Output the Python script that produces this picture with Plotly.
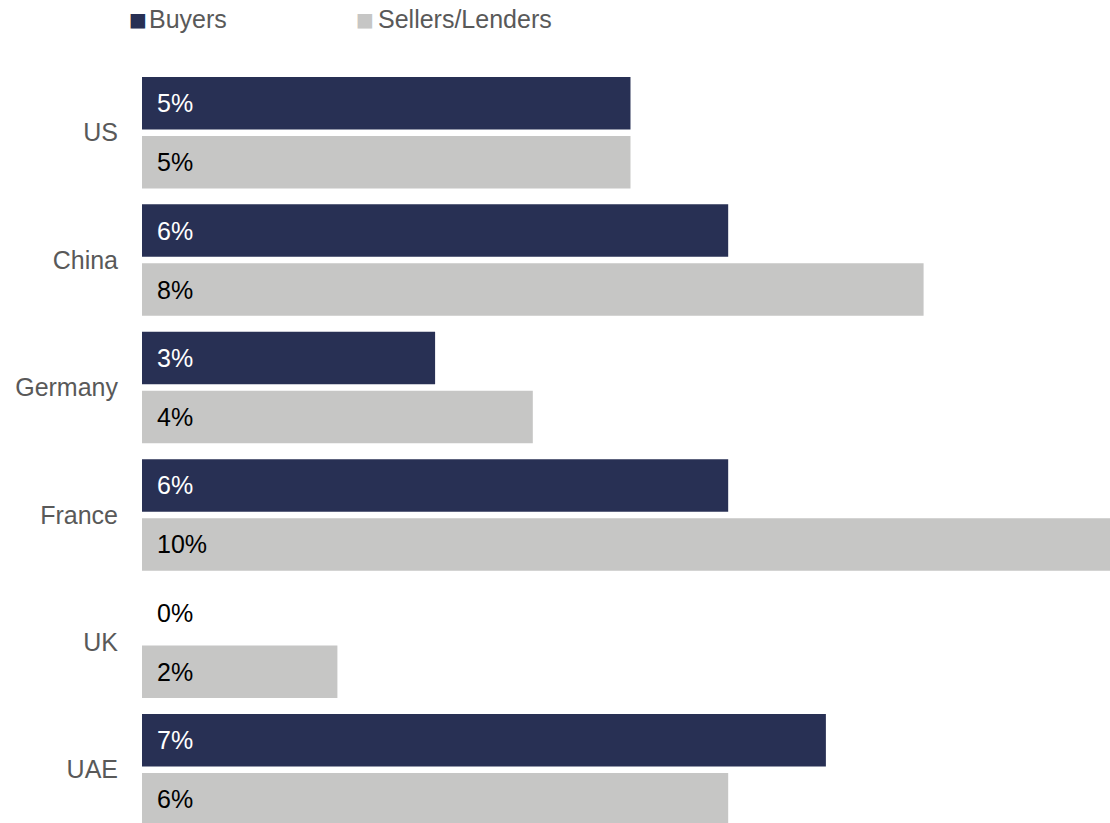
import plotly.graph_objects as go

categories = ["US", "China", "Germany", "France", "UK", "UAE"]
buyers = [5, 6, 3, 6, 0, 7]
sellers = [5, 8, 4, 10, 2, 6]
series_names = ["Buyers", "Sellers/Lenders"]

NAVY = "#283054"
GRAY = "#C6C6C5"
FONT = "Liberation Sans, Arial, sans-serif"

fig = go.Figure()
fig.add_trace(go.Bar(y=categories, x=buyers, name=series_names[0], orientation="h",
                     marker=dict(color=NAVY, line=dict(width=0)), hoverinfo="x+y"))
fig.add_trace(go.Bar(y=categories, x=sellers, name=series_names[1], orientation="h",
                     marker=dict(color=GRAY, line=dict(width=0)), hoverinfo="x+y"))

annotations = []
for cat, b, s in zip(categories, buyers, sellers):
    annotations.append(dict(x=0, y=cat, xref="x", yref="y", text=f"{b}%", showarrow=False,
                            xanchor="left", yanchor="middle", xshift=13, yshift=29.5,
                            font=dict(family=FONT, size=25, color="#FFFFFF" if b > 0 else "#000000")))
    annotations.append(dict(x=0, y=cat, xref="x", yref="y", text=f"{s}%", showarrow=False,
                            xanchor="left", yanchor="middle", xshift=13, yshift=-29.5,
                            font=dict(family=FONT, size=25, color="#000000")))

# legend drawn as text (square glyph + series name)
legend_colors = [NAVY, GRAY]
legend_square_shift = [-4.5, 223]
legend_text_shift = [5, 234]
for name, col, sq, tx in zip(series_names, legend_colors, legend_square_shift, legend_text_shift):
    annotations.append(dict(x=0, y=1, xref="paper", yref="paper", text="■", showarrow=False,
                            xanchor="center", yanchor="middle", xshift=sq, yshift=50,
                            font=dict(family="DejaVu Sans", size=19, color=col)))
    annotations.append(dict(x=0, y=1, xref="paper", yref="paper", text=name, showarrow=False,
                            xanchor="left", yanchor="middle", xshift=tx, yshift=50,
                            font=dict(family=FONT, size=25, color="#595959")))

fig.update_layout(
    width=1110, height=823,
    margin=dict(l=142, r=0, t=69, b=0),
    paper_bgcolor="white", plot_bgcolor="white",
    barmode="group", bargap=0.074, bargroupgap=0.11,
    font=dict(family=FONT, size=25, color="#595959"),
    showlegend=False,
    xaxis=dict(range=[0, 9.908], showgrid=False, zeroline=False, showticklabels=False,
               showline=False, fixedrange=True),
    yaxis=dict(range=[5.418, -0.5], showgrid=False, zeroline=False, showline=False,
               ticks="", ticklabelstandoff=23,
               tickfont=dict(family=FONT, size=25, color="#595959"), fixedrange=True),
    annotations=annotations,
)

fig.write_html("out.html", config={"displayModeBar": False},
               post_script="document.body.style.margin='0px';document.body.style.overflow='hidden';")
